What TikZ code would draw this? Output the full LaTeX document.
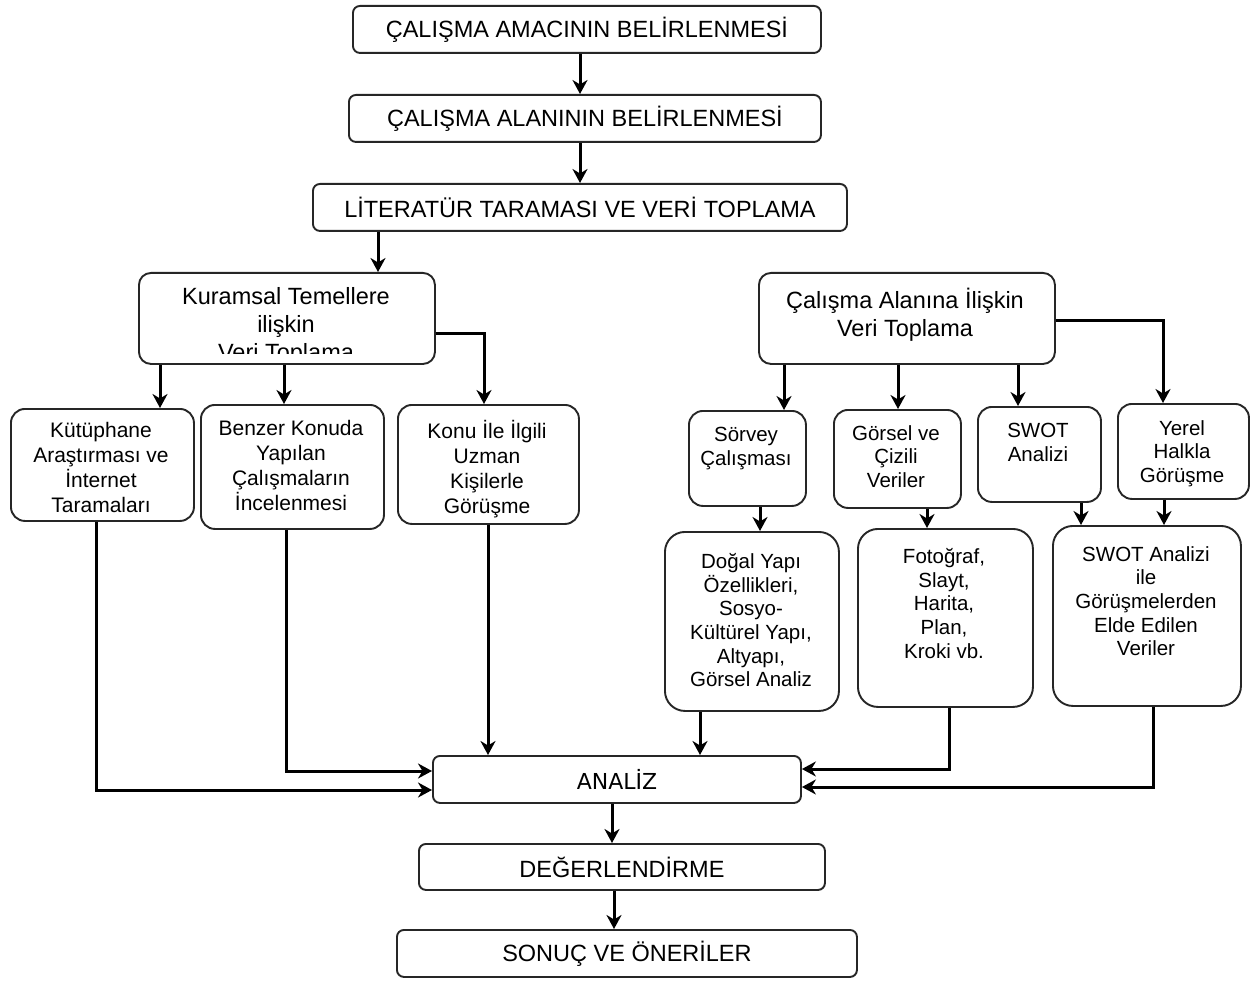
\documentclass[tikz,border=0pt]{standalone}
\usepackage{fontspec}
\setmainfont{Liberation Sans}
\newfontfamily\dejavu{DejaVu Sans}
\usetikzlibrary{arrows.meta}
\begin{document}
\begin{tikzpicture}[x=1pt,y=-1pt,
 box/.style={draw=black!85, line width=1.9pt, rounded corners=#1, anchor=north west, inner sep=0pt},
 box/.default=7pt,
 conn/.style={line width=3pt, -{Stealth[length=14pt,width=15pt,inset=4.5pt]}},
 hdr/.style={font=\fontsize{23.5}{27}\selectfont},
 bigl/.style={font=\fontsize{23.5}{28}\selectfont, align=center, inner sep=0pt, anchor=north},
 lbll/.style={font=\fontsize{21}{25}\selectfont, align=center, inner sep=0pt, anchor=north},
 lblr/.style={font=\fontsize{20.5}{23.7}\selectfont, align=center, inner sep=0pt, anchor=north},
]
\useasboundingbox (0,0) rectangle (1257,981);
\fill[white] (0,0) rectangle (1257,981);

% top chain
\node[box, hdr, minimum width=468pt, minimum height=47pt] (b1) at (352,5) {ÇALIŞMA AMACININ BELİRLENMESİ};
\node[box, hdr, minimum width=472pt, minimum height=47pt] (b2) at (348,94) {ÇALIŞMA ALANININ BELİRLENMESİ};
\node[box, hdr, minimum width=534pt, minimum height=47pt] (b3) at (312,183) {LİTERATÜR TARAMASI VE VERİ TOPLAMA};

% second level
\node[box=12pt, minimum width=296pt, minimum height=91pt] (kur) at (138,272) {};
\begin{scope}
\clip (140,274) rectangle (432,353);
\node[bigl] (kurt) at (286,287) {Kuramsal Temellere\\ilişkin\\Veri Toplama};
\end{scope}
\node[box=12pt, minimum width=296pt, minimum height=91pt] (cal) at (758,272) {};
\node[bigl] (calt) at (905,288) {Çalışma Alanına İlişkin\\Veri Toplama};

% third level left
\node[box=14pt, minimum width=183pt, minimum height=112pt] (kut) at (10,408) {};
\node[lbll] at (101,422) {Kütüphane\\Araştırması ve\\İnternet\\Taramaları};
\node[box=14pt, minimum width=183pt, minimum height=124pt] (ben) at (200,404) {};
\node[lbll] at (291,420) {Benzer Konuda\\Yapılan\\Çalışmaların\\İncelenmesi};
\node[box=14pt, minimum width=181pt, minimum height=119pt] (kon) at (397,404) {};
\node[lbll] at (487,420) {Konu İle İlgili\\Uzman\\Kişilerle\\Görüşme};

% third level right
\node[box=14pt, minimum width=117pt, minimum height=95pt] (sor) at (688,410) {};
\node[lblr] at (746,427) {Sörvey\\Çalışması};
\node[box=14pt, minimum width=127pt, minimum height=98pt] (gor) at (833,409) {};
\node[lblr] at (896,425) {Görsel ve\\Çizili\\Veriler};
\node[box=14pt, minimum width=123pt, minimum height=95pt] (swo) at (977,406) {};
\node[lblr] at (1038,423) {SWOT\\Analizi};
\node[box=14pt, minimum width=131pt, minimum height=95pt] (yer) at (1117,403) {};
\node[lblr] at (1182,420) {Yerel\\Halkla\\Görüşme};

% fourth level
\node[box=20pt, minimum width=174pt, minimum height=179pt] (dog) at (664,531) {};
\node[lblr] at (751,553) {Doğal Yapı\\Özellikleri,\\Sosyo-\\Kültürel Yapı,\\Altyapı,\\Görsel Analiz};
\node[box=20pt, minimum width=175pt, minimum height=178pt] (fot) at (857,528) {};
\node[lblr] at (944,548) {Fotoğraf,\\Slayt,\\Harita,\\Plan,\\Kroki vb.};
\node[box=20pt, minimum width=188pt, minimum height=180pt] (swi) at (1052,525) {};
\node[lblr] at (1146,546) {SWOT Analizi\\ile\\Görüşmelerden\\Elde Edilen\\Veriler};

% bottom chain
\node[box, minimum width=368pt, minimum height=47pt, font=\dejavu\fontsize{22}{26}\selectfont] (ana) at (432,755) {ANALİZ};
\node[box, hdr, minimum width=406pt, minimum height=46pt] (deg) at (418,843) {DEĞERLENDİRME};
\node[box, hdr, minimum width=460pt, minimum height=47pt] (son) at (396,929) {SONUÇ VE ÖNERİLER};

% connectors
\draw[conn] (b1.south -| 580,0) -- (b2.north -| 580,0);
\draw[conn] (b2.south -| 580,0) -- (b3.north -| 580,0);
\draw[conn] (b3.south -| 378,0) -- (kur.north -| 378,0);
\draw[conn] (kur.south -| 160,0) -- (kut.north -| 160,0);
\draw[conn] (kur.south -| 284,0) -- (ben.north -| 284,0);
\draw[conn] (kur.east |- 0,333) -| (kon.north -| 484,0);
\draw[conn] (cal.south -| 784,0) -- (sor.north -| 784,0);
\draw[conn] (cal.south -| 898,0) -- (gor.north -| 898,0);
\draw[conn] (cal.south -| 1018,0) -- (swo.north -| 1018,0);
\draw[conn] (cal.east |- 0,320) -| (yer.north -| 1163,0);
\draw[conn] (sor.south -| 760,0) -- (dog.north -| 760,0);
\draw[conn] (gor.south -| 927,0) -- (fot.north -| 927,0);
\draw[conn] (swo.south -| 1081,0) -- (swi.north -| 1081,0);
\draw[conn] (yer.south -| 1164,0) -- (swi.north -| 1164,0);
\draw[conn] (kut.south -| 96,0) |- (ana.west |- 0,790);
\draw[conn] (ben.south -| 286,0) |- (ana.west |- 0,771);
\draw[conn] (kon.south -| 488,0) -- (ana.north -| 488,0);
\draw[conn] (dog.south -| 700,0) -- (ana.north -| 700,0);
\draw[conn] (fot.south -| 949,0) |- (ana.east |- 0,769);
\draw[conn] (swi.south -| 1153,0) |- (ana.east |- 0,787);
\draw[conn] (ana.south -| 612,0) -- (deg.north -| 612,0);
\draw[conn] (deg.south -| 614,0) -- (son.north -| 614,0);
\end{tikzpicture}
\end{document}
